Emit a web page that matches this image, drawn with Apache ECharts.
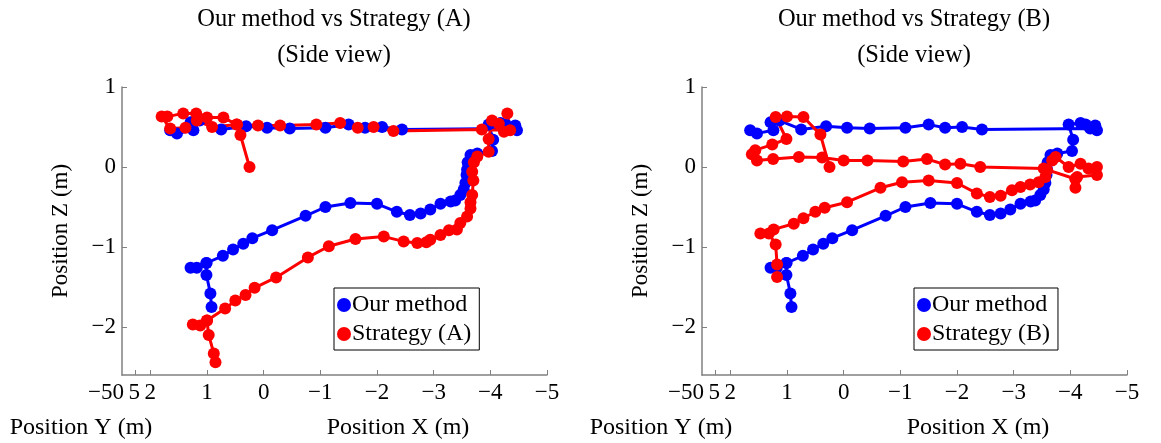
<!DOCTYPE html>
<html>
<head>
<meta charset="utf-8">
<script src="https://cdn.jsdelivr.net/npm/echarts@6/dist/echarts.min.js"></script>
<style>
  html, body { margin: 0; padding: 0; background: #fff; }
  #chart { width: 1161px; height: 443px; }
</style>
</head>
<body>
<div id="chart"></div>
<script>
// trajectories, side view (X horizontal, Z vertical)
var ourX = [0.92, 0.94, 1.01, 1.01, 1.18, 1.29, 1.01, 0.72, 0.54, 0.36, 0.2, -0.15, -0.74, -1.09, -1.53, -2.0, -2.35, -2.58, -2.77, -2.94, -3.12, -3.3, -3.38, -3.47, -3.53, -3.56, -3.58, -3.59, -3.6, -3.65, -3.77, -4.03, -4.05, -3.97, -4.18, -4.27, -4.44, -4.47, -4.35, -2.44, -2.09, -1.79, -1.5, -1.09, -0.46, -0.06, 0.31, 0.75, 1.13, 1.29, 1.24, 1.53, 1.65];
var ourZ = [-1.75, -1.58, -1.35, -1.2, -1.26, -1.26, -1.2, -1.11, -1.03, -0.96, -0.89, -0.79, -0.61, -0.5, -0.45, -0.46, -0.56, -0.6, -0.58, -0.53, -0.46, -0.43, -0.42, -0.35, -0.28, -0.2, -0.1, -0.03, 0.06, 0.15, 0.17, 0.2, 0.34, 0.53, 0.55, 0.53, 0.52, 0.46, 0.48, 0.47, 0.5, 0.49, 0.53, 0.49, 0.48, 0.49, 0.51, 0.47, 0.58, 0.56, 0.46, 0.42, 0.46];

var stratAX = [0.85, 0.88, 0.97, 1.0, 1.12, 1.25, 1.0, 0.68, 0.5, 0.32, 0.16, -0.22, -0.78, -1.15, -1.62, -2.12, -2.47, -2.71, -2.87, -2.94, -3.12, -3.27, -3.41, -3.47, -3.59, -3.65, -3.65, -3.68, -3.7, -3.68, -3.71, -3.77, -3.97, -3.97, -4.03, -4.15, -4.24, -4.3, -4.35, -3.85, -2.29, -1.94, -1.66, -1.35, -0.93, -0.29, 0.1, 0.48, 0.71, 1.0, 1.19, 1.42, 1.7, 1.8, 1.65, 1.38, 1.18, 0.91, 0.47, 0.41, 0.25];
var stratAZ = [-2.44, -2.33, -2.1, -1.92, -1.98, -1.97, -1.92, -1.77, -1.67, -1.6, -1.51, -1.38, -1.13, -0.99, -0.9, -0.87, -0.93, -0.95, -0.94, -0.91, -0.85, -0.79, -0.78, -0.7, -0.62, -0.52, -0.44, -0.35, -0.17, -0.06, 0.06, 0.13, 0.19, 0.35, 0.58, 0.54, 0.44, 0.67, 0.46, 0.47, 0.45, 0.5, 0.49, 0.55, 0.53, 0.52, 0.52, 0.53, 0.62, 0.62, 0.67, 0.67, 0.63, 0.63, 0.48, 0.49, 0.58, 0.5, 0.53, 0.4, 0.0];

var stratBX = [1.175, 1.175, 1.2, 1.32, 1.47, 1.235, 0.88, 0.71, 0.5, 0.335, -0.06, -0.65, -1.03, -1.5, -2.0, -2.35, -2.58, -2.77, -2.97, -3.12, -3.29, -3.44, -3.56, -3.59, -3.68, -3.74, -3.97, -4.18, -4.32, -4.47, -4.47, -4.12, -4.09, -4.09, -4.09, -3.53, -2.41, -2.06, -1.79, -1.47, -1.05, -0.42, 0.0, 0.38, 0.79, 1.245, 1.53, 1.62, 1.56, 1.26, 1.01, 1.2, 1.0, 0.71, 0.41, 0.25];
var stratBZ = [-1.375, -1.22, -0.97, -0.83, -0.83, -0.78, -0.71, -0.64, -0.56, -0.51, -0.44, -0.26, -0.19, -0.17, -0.2, -0.33, -0.375, -0.36, -0.29, -0.25, -0.22, -0.19, -0.125, -0.04, 0.08, 0.125, 0.0, 0.04, -0.02, 0.0, -0.1, -0.125, -0.15, -0.26, -0.15, -0.02, 0.0, 0.04, 0.03, 0.1, 0.07, 0.08, 0.08, 0.12, 0.125, 0.1, 0.08, 0.16, 0.21, 0.28, 0.35, 0.625, 0.63, 0.625, 0.405, 0.0];

var xTicks = [2.26, 2, 1, 0, -1, -2, -3, -4, -5];
var xLabelVals = [2.5, 2, 1, 0, -1, -2, -3, -4, -5];
var xLabelText = {'2.5': '{e|−50\u20095}'};
var zTicks = [-2, -1, 0, 1];

var FONT = 'Liberation Serif';
var GREY = '#808080';

function pairs(xs, ys) {
  return xs.map(function (v, i) { return [v, ys[i]]; });
}

function numLabel(v) {
  if (xLabelText[String(v)] !== undefined) return xLabelText[String(v)];
  return v < 0 ? '−' + Math.abs(v) : String(v);
}

function xAx(g) {
  return {
    gridIndex: g, type: 'value', inverse: true, min: -5, max: 2.5,
    axisLine: { onZero: false, lineStyle: { color: GREY, width: 1.5 } },
    axisTick: { inside: true, length: 5, customValues: xTicks, lineStyle: { color: GREY, width: 1 } },
    axisLabel: { customValues: xLabelVals, showMinLabel: true, showMaxLabel: true, hideOverlap: false,
      margin: 6, color: '#000', fontFamily: FONT, fontSize: 23, formatter: numLabel,
      rich: { e: { fontFamily: FONT, fontSize: 23, color: '#000', padding: [0, 16, 0, 0] } } },
    splitLine: { show: false }
  };
}

function yAx(g) {
  return {
    gridIndex: g, type: 'value', min: -2.6, max: 1,
    name: 'Position Z (m)', nameLocation: 'middle', nameGap: 50,
    nameTextStyle: { color: '#000', fontFamily: FONT, fontSize: 23 },
    axisLine: { show: true, onZero: false, lineStyle: { color: GREY, width: 1.5 } },
    axisTick: { show: true, inside: true, length: 5, customValues: zTicks, lineStyle: { color: GREY, width: 1 } },
    axisLabel: { customValues: zTicks, margin: 6, color: '#000', fontFamily: FONT, fontSize: 23,
      formatter: numLabel },
    splitLine: { show: false }
  };
}

function lineSeries(name, color, data, g) {
  return {
    name: name, type: 'line', xAxisIndex: g, yAxisIndex: g,
    data: data, symbol: 'circle', symbolSize: 12,
    lineStyle: { color: color, width: 3 },
    itemStyle: { color: color },
    animation: false
  };
}

function legendAt(left, names) {
  return {
    data: names, left: left, top: 288, orient: 'vertical',
    icon: 'circle', itemWidth: 14, itemHeight: 14, itemGap: 5,
    padding: [5, 8, 4, 3],
    borderColor: '#000', borderWidth: 1, backgroundColor: '#fff',
    textStyle: { color: '#000', fontFamily: FONT, fontSize: 24, padding: [0, 0, 0, -4] }
  };
}

function txt(x, y, s, size) {
  return {
    type: 'text', x: x, y: y,
    style: { text: s, fill: '#000', font: (size || 23) + 'px "' + FONT + '"', textAlign: 'center', textVerticalAlign: 'middle' }
  };
}

var chart = echarts.init(document.getElementById('chart'));
chart.setOption({
  backgroundColor: '#fff',
  animation: false,
  grid: [
    { left: 122, top: 87, width: 425, height: 288 },
    { left: 702, top: 87, width: 425, height: 288 }
  ],
  xAxis: [xAx(0), xAx(1)],
  yAxis: [yAx(0), yAx(1)],
  legend: [
    legendAt(334, ['Our method', 'Strategy (A)']),
    legendAt(914, ['Our method', 'Strategy (B)'])
  ],
  graphic: [
    txt(334, 20, 'Our method vs Strategy (A)', 24.5),
    txt(334, 56, '(Side view)', 24.5),
    txt(914, 20, 'Our method vs Strategy (B)', 24.5),
    txt(914, 56, '(Side view)', 24.5),
    txt(81, 428, 'Position Y (m)', 24),
    txt(398, 428, 'Position X (m)', 24),
    txt(661, 428, 'Position Y (m)', 24),
    txt(978, 428, 'Position X (m)', 24)
  ],
  series: [
    lineSeries('Our method', '#0000ff', pairs(ourX, ourZ), 0),
    lineSeries('Strategy (A)', '#ff0000', pairs(stratAX, stratAZ), 0),
    lineSeries('Our method', '#0000ff', pairs(ourX, ourZ), 1),
    lineSeries('Strategy (B)', '#ff0000', pairs(stratBX, stratBZ), 1)
  ]
});
</script>
</body>
</html>
